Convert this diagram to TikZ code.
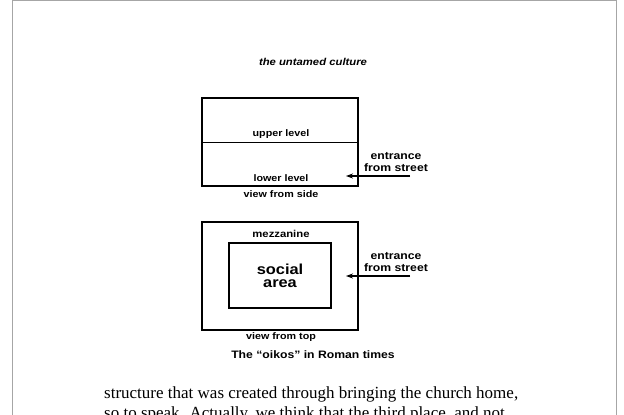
\documentclass[tikz,border=0pt]{standalone}
\usepackage{fontspec}
\setmainfont{Liberation Serif}
\setsansfont{Liberation Sans}
\newfontfamily\plansans[FakeStretch=1.13]{Liberation Sans}
\usetikzlibrary{arrows.meta,positioning}

\begin{document}
\begin{tikzpicture}[x=1pt,y=-1pt,>={Stealth[length=7pt,width=5pt]},
    lbl/.style={font=\plansans\bfseries\fontsize{9.5}{12}\selectfont,inner sep=0pt,align=center},
    door/.style={lbl,font=\plansans\bfseries\fontsize{10.8}{12}\selectfont},
    room/.style={draw,line width=2pt,inner sep=0pt}]
    \useasboundingbox (0,0) rectangle (624,415);
    % edge of the page
    \draw[gray!70,line width=1.5pt] (12.5,416) -- (12.5,0.7) -- (616.5,0.7) -- (616.5,416);
    % running head
    \node[lbl,font=\plansans\bfseries\itshape\fontsize{10}{12}\selectfont] (head) at (313,62) {the untamed culture};

    % the house seen from the side
    \node[room,minimum width=156pt,minimum height=88pt] (side) at (280,142) {};
    \draw[line width=1pt] (side.west) -- (side.east);
    \node[lbl] (upper) at (281,134) {upper level};
    \node[lbl] (lower) at (281,178) {lower level};
    \node[lbl] (sidecap) at (281,194) {view from side};
    \node[door] (entry1) at (396,162) {entrance\\from street};
    \coordinate (street1) at (410,176);
    \coordinate (door1) at (346,176);
    \draw[->,line width=1.1pt] (street1) -- (door1);

    % the house seen from above
    \node[room,minimum width=156pt,minimum height=108pt] (top) at (280,276) {};
    \node[room,minimum width=102pt,minimum height=65pt] (hall) at (280,275.5) {};
    \node[lbl,font=\plansans\bfseries\fontsize{10}{12}\selectfont] (mezz) at (281,234) {mezzanine};
    \node[lbl,font=\plansans\bfseries\fontsize{14.5}{13}\selectfont] (social) at (hall) {social\\area};
    \node[door] (entry2) at (396,262) {entrance\\from street};
    \coordinate (street2) at (410,276);
    \coordinate (door2) at (346,276);
    \draw[->,line width=1.1pt] (street2) -- (door2);
    \node[lbl] (topcap) at (281,337) {view from top};
    \node[lbl,font=\plansans\bfseries\fontsize{10.8}{12}\selectfont] (caption) at (313,355) {The “oikos” in Roman times};

    % body text
    \node[anchor=base west,inner sep=0pt,font=\fontsize{17}{20}\selectfont] (line1) at (104,398) {structure that was created through bringing the church home,};
    \node[anchor=base west,inner sep=0pt,font=\fontsize{17}{20}\selectfont] (line2) at (104,418) {so to speak. Actually, we think that the third place, and not};
\end{tikzpicture}
\end{document}
